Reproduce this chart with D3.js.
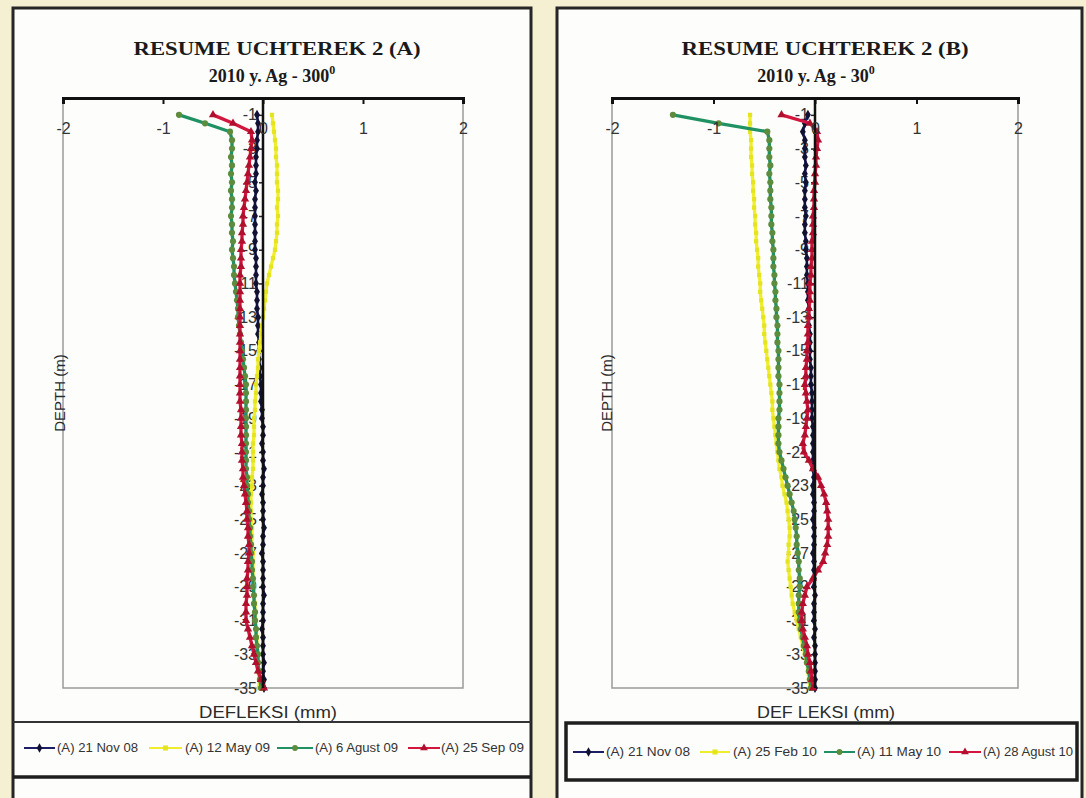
<!DOCTYPE html>
<html>
<head>
<meta charset="utf-8">
<script src="https://cdn.jsdelivr.net/npm/d3@7"></script>
<style>
  body { margin: 0; background: #f6f0d3; }
</style>
</head>
<body>
<div id="chart"></div>
<script>
// depth of each reading (m)
const depths = [
  -1,-1.5,-2,-2.5,-3,-3.5,-4,-4.5,-5,-5.5,
  -6,-6.5,-7,-7.5,-8,-8.5,-9,-9.5,-10,-10.5,
  -11,-11.5,-12,-12.5,-13,-13.5,-14,-14.5,-15,-15.5,
  -16,-16.5,-17,-17.5,-18,-18.5,-19,-19.5,-20,-20.5,
  -21,-21.5,-22,-22.5,-23,-23.5,-24,-24.5,-25,-25.5,
  -26,-26.5,-27,-27.5,-28,-28.5,-29,-29.5,-30,-30.5,
  -31,-31.5,-32,-32.5,-33,-33.5,-34,-34.5,-35
];

const xTicks = [-2, -1, 0, 1, 2];
const yTicks = [-1,-3,-5,-7,-9,-11,-13,-15,-17,-19,-21,-23,-25,-27,-29,-31,-33,-35];

// panel A deflections (mm)
const a_nov08 = [
  -0.06,-0.05,-0.05,-0.06,-0.06,-0.07,-0.07,-0.07,-0.08,-0.07,
  -0.08,-0.08,-0.08,-0.08,-0.08,-0.08,-0.08,-0.07,-0.07,-0.07,
  -0.07,-0.06,-0.06,-0.06,-0.05,-0.05,-0.05,-0.04,-0.04,-0.04,
  -0.03,-0.03,-0.02,-0.02,-0.02,-0.01,-0.01,0,0,-0.01,
  0,0,0.01,0,0,-0.01,0,0,0,0.01,
  0,0,-0.01,0,0,0,0,0.01,0,0,
  0,-0.01,0,0,0,0.01,0,0.01,0.01
];
const a_may09 = [
  0.09,0.10,0.11,0.12,0.13,0.13,0.14,0.14,0.14,0.15,
  0.15,0.14,0.15,0.14,0.14,0.13,0.12,0.10,0.08,0.06,
  0.04,0.03,0.02,0.01,0.00,-0.01,-0.02,-0.03,-0.04,-0.05,
  -0.05,-0.06,-0.07,-0.07,-0.08,-0.08,-0.09,-0.09,-0.09,-0.10,
  -0.10,-0.10,-0.10,-0.11,-0.11,-0.12,-0.12,-0.12,-0.12,-0.11,
  -0.11,-0.11,-0.10,-0.10,-0.10,-0.10,-0.09,-0.09,-0.08,-0.08,
  -0.07,-0.07,-0.06,-0.06,-0.05,-0.05,-0.05,-0.04,-0.04
];
const a_aug09 = [
  -0.84,-0.58,-0.33,-0.31,-0.31,-0.32,-0.31,-0.32,-0.31,-0.32,
  -0.31,-0.31,-0.32,-0.31,-0.31,-0.30,-0.31,-0.30,-0.29,-0.29,
  -0.28,-0.27,-0.26,-0.25,-0.25,-0.24,-0.23,-0.22,-0.21,-0.20,
  -0.19,-0.18,-0.17,-0.17,-0.17,-0.17,-0.17,-0.17,-0.17,-0.17,
  -0.17,-0.17,-0.17,-0.16,-0.16,-0.15,-0.15,-0.14,-0.14,-0.13,
  -0.13,-0.12,-0.12,-0.11,-0.11,-0.10,-0.10,-0.09,-0.09,-0.08,
  -0.08,-0.07,-0.07,-0.06,-0.05,-0.05,-0.04,-0.03,-0.02
];
const a_sep09 = [
  -0.50,-0.30,-0.12,-0.11,-0.12,-0.13,-0.14,-0.15,-0.16,-0.17,
  -0.18,-0.19,-0.20,-0.20,-0.21,-0.21,-0.22,-0.22,-0.22,-0.23,
  -0.23,-0.23,-0.23,-0.23,-0.23,-0.23,-0.23,-0.23,-0.23,-0.23,
  -0.23,-0.23,-0.23,-0.23,-0.23,-0.22,-0.22,-0.22,-0.22,-0.21,
  -0.21,-0.21,-0.20,-0.20,-0.19,-0.18,-0.17,-0.16,-0.16,-0.15,
  -0.15,-0.14,-0.14,-0.15,-0.15,-0.16,-0.16,-0.16,-0.17,-0.17,
  -0.17,-0.15,-0.13,-0.11,-0.09,-0.07,-0.05,-0.02,0.01
];

// panel B deflections (mm)
const b_nov08 = [
  -0.07,-0.10,-0.12,-0.10,-0.10,-0.10,-0.09,-0.10,-0.09,-0.10,
  -0.10,-0.10,-0.09,-0.10,-0.10,-0.09,-0.09,-0.08,-0.08,-0.08,
  -0.07,-0.07,-0.07,-0.06,-0.06,-0.06,-0.05,-0.05,-0.05,-0.05,
  -0.04,-0.04,-0.04,-0.03,-0.03,-0.03,-0.03,-0.02,-0.02,-0.02,
  -0.02,-0.02,-0.02,-0.01,-0.02,-0.02,-0.01,-0.01,-0.02,-0.01,
  -0.01,-0.01,-0.02,-0.01,-0.01,-0.01,-0.01,0,-0.01,-0.01,
  -0.01,0,-0.01,0,0,0,0,0,0
];
const b_feb10 = [
  -0.64,-0.64,-0.64,-0.63,-0.63,-0.63,-0.62,-0.62,-0.61,-0.61,
  -0.60,-0.60,-0.59,-0.59,-0.58,-0.58,-0.57,-0.56,-0.56,-0.55,
  -0.54,-0.54,-0.53,-0.52,-0.51,-0.50,-0.50,-0.49,-0.48,-0.47,
  -0.46,-0.45,-0.44,-0.43,-0.42,-0.42,-0.41,-0.40,-0.39,-0.38,
  -0.37,-0.36,-0.35,-0.33,-0.32,-0.30,-0.28,-0.27,-0.26,-0.25,
  -0.25,-0.26,-0.26,-0.27,-0.26,-0.25,-0.24,-0.23,-0.22,-0.20,
  -0.18,-0.16,-0.14,-0.12,-0.10,-0.08,-0.07,-0.06,-0.05
];
const b_may10 = [
  -1.40,-0.95,-0.47,-0.45,-0.45,-0.45,-0.44,-0.45,-0.44,-0.44,
  -0.44,-0.43,-0.43,-0.43,-0.42,-0.42,-0.41,-0.41,-0.41,-0.40,
  -0.40,-0.39,-0.39,-0.38,-0.38,-0.37,-0.37,-0.37,-0.36,-0.36,
  -0.36,-0.36,-0.35,-0.35,-0.35,-0.35,-0.36,-0.36,-0.36,-0.36,
  -0.35,-0.33,-0.31,-0.29,-0.27,-0.25,-0.23,-0.21,-0.20,-0.19,
  -0.18,-0.18,-0.17,-0.16,-0.16,-0.15,-0.15,-0.16,-0.16,-0.16,
  -0.15,-0.14,-0.12,-0.11,-0.09,-0.08,-0.06,-0.05,-0.04
];
const b_aug10 = [
  -0.33,-0.05,0.02,0.03,0.02,0.01,0.01,0.00,0.00,-0.01,
  -0.01,-0.01,-0.02,-0.02,-0.02,-0.03,-0.03,-0.03,-0.04,-0.04,
  -0.05,-0.05,-0.05,-0.06,-0.06,-0.07,-0.07,-0.07,-0.08,-0.08,
  -0.09,-0.09,-0.10,-0.09,-0.08,-0.07,-0.08,-0.09,-0.10,-0.12,
  -0.11,-0.06,-0.02,0.03,0.06,0.09,0.11,0.12,0.13,0.13,
  0.13,0.12,0.10,0.08,0.03,-0.02,-0.08,-0.10,-0.12,-0.13,
  -0.13,-0.12,-0.10,-0.08,-0.07,-0.05,-0.04,-0.03,-0.02
];

const labelsA = ["(A) 21 Nov 08", "(A) 12 May 09", "(A) 6 Agust 09", "(A) 25 Sep 09"];
const labelsB = ["(A) 21 Nov 08", "(A) 25 Feb 10", "(A) 11 May 10", "(A) 28 Agust 10"];

const colors = ["#1c1f66", "#f0ee2c", "#1f9162", "#d3163e"];
const markerFill = ["#111133", "#e4e420", "#5d8c3e", "#b0102e"];
const symbols = [d3.symbolDiamond, d3.symbolSquare, d3.symbolCircle, d3.symbolTriangle];

const width = 1086, height = 798;
const sans = "'Liberation Sans', Arial, sans-serif";
const serif = "'Liberation Serif', 'Times New Roman', serif";

const svg = d3.select("#chart").append("svg")
  .attr("width", width).attr("height", height);

svg.append("rect").attr("width", width).attr("height", height).attr("fill", "#f6f0d3");

function drawPanel(p) {
  const g = svg.append("g");

  g.append("rect")
    .attr("x", p.fx).attr("y", 8).attr("width", p.fw).attr("height", 810)
    .attr("fill", "#fdfdfb").attr("stroke", "#262626").attr("stroke-width", 3);

  const x = d3.scaleLinear().domain([-2, 2]).range([p.left, p.right]);
  const y = d3.scaleLinear().domain([0, -35]).range([98, 688]);

  // titles
  g.append("text")
    .attr("x", p.tx).attr("y", 55)
    .attr("text-anchor", "middle")
    .attr("font-family", serif).attr("font-weight", "bold").attr("font-size", 18)
    .attr("textLength", 287).attr("lengthAdjust", "spacingAndGlyphs")
    .attr("fill", "#1a1a1a")
    .text(p.title);
  const sub = g.append("text")
    .attr("x", p.sx).attr("y", 82)
    .attr("text-anchor", "middle")
    .attr("font-family", serif).attr("font-weight", "bold").attr("font-size", 18)
    .attr("fill", "#1a1a1a");
  sub.append("tspan").text(p.sub);
  sub.append("tspan").attr("dy", -8).attr("font-size", 12).text("0");

  // plot frame
  g.append("rect")
    .attr("x", p.left).attr("y", y(0))
    .attr("width", p.right - p.left).attr("height", y(-35) - y(0))
    .attr("fill", "none").attr("stroke", "#9a9a9a").attr("stroke-width", 1.5);

  // depth labels
  const yAx = g.append("g")
    .attr("transform", `translate(${x(0)},0)`)
    .call(d3.axisLeft(y).tickValues(yTicks).tickSize(4).tickPadding(2).tickFormat(d => String(d)));
  yAx.select(".domain").remove();
  yAx.selectAll("text").attr("font-family", sans).attr("font-size", 16).attr("fill", "#333");
  yAx.selectAll("line").attr("stroke", "#222").attr("stroke-width", 1.5);

  // series
  const line = d3.line().x(d => x(d[0])).y(d => y(d[1]));
  p.series.forEach((vals, i) => {
    const pts = vals.map((v, j) => [v, depths[j]]);
    g.append("path")
      .attr("d", line(pts))
      .attr("fill", "none").attr("stroke", colors[i])
      .attr("stroke-width", i === 0 ? 2.6 : 3.3)
      .attr("stroke-linejoin", "round");
    g.append("g").selectAll("path")
      .data(pts).join("path")
      .attr("transform", d => `translate(${x(d[0])},${y(d[1])})`)
      .attr("d", d3.symbol().type(symbols[i]).size(i === 1 ? 18 : 30))
      .attr("fill", markerFill[i]);
  });

  // zero line
  g.append("line")
    .attr("x1", x(0)).attr("x2", x(0)).attr("y1", y(0)).attr("y2", y(-35))
    .attr("stroke", "#111").attr("stroke-width", 2.5);

  // deflection axis on top
  const xAx = g.append("g")
    .attr("transform", `translate(0,${y(0)})`)
    .call(d3.axisTop(x).tickValues(xTicks).tickSize(-6).tickFormat(d => String(d)));
  xAx.select(".domain").attr("stroke", "#111").attr("stroke-width", 3);
  xAx.selectAll("line").attr("stroke", "#111").attr("stroke-width", 2);
  xAx.selectAll("text")
    .attr("y", 30).attr("dy", "0.35em")
    .attr("font-family", sans).attr("font-size", 16).attr("fill", "#333");

  // axis titles
  g.append("text")
    .attr("x", p.xlx).attr("y", 718)
    .attr("text-anchor", "middle")
    .attr("font-family", sans).attr("font-size", 16).attr("fill", "#2a2a2a")
    .attr("textLength", 138).attr("lengthAdjust", "spacingAndGlyphs")
    .text(p.xlabel);
  g.append("text")
    .attr("transform", `translate(${p.ylx},393) rotate(-90)`)
    .attr("text-anchor", "middle").attr("dy", "0.35em")
    .attr("font-family", sans).attr("font-size", 15).attr("fill", "#2a2a2a")
    .text("DEPTH (m)");

  // legend
  if (p.legendBox) {
    g.append("rect")
      .attr("x", p.legendBox[0]).attr("y", p.legendBox[1])
      .attr("width", p.legendBox[2]).attr("height", p.legendBox[3])
      .attr("fill", "none").attr("stroke", "#1e1e1e").attr("stroke-width", 3.5);
  } else {
    g.append("line").attr("x1", p.fx).attr("x2", p.fx + p.fw).attr("y1", 722).attr("y2", 722)
      .attr("stroke", "#333").attr("stroke-width", 2);
    g.append("line").attr("x1", p.fx).attr("x2", p.fx + p.fw).attr("y1", 777).attr("y2", 777)
      .attr("stroke", "#1e1e1e").attr("stroke-width", 3.5);
  }
  p.labels.forEach((lab, i) => {
    const [x1, x2, t1, t2] = p.legendPos[i];
    const ly = p.legendY;
    g.append("line").attr("x1", x1).attr("x2", x2).attr("y1", ly).attr("y2", ly)
      .attr("stroke", colors[i]).attr("stroke-width", 2);
    g.append("path")
      .attr("transform", `translate(${(x1 + x2) / 2},${ly})`)
      .attr("d", d3.symbol().type(symbols[i]).size(26))
      .attr("fill", markerFill[i]);
    g.append("text")
      .attr("x", t1).attr("y", ly).attr("dy", "0.35em")
      .attr("font-family", sans).attr("font-size", 12).attr("fill", "#333")
      .attr("textLength", t2 - t1).attr("lengthAdjust", "spacingAndGlyphs")
      .text(lab);
  });
}

drawPanel({
  fx: 13, fw: 518, left: 63, right: 463,
  tx: 277, sx: 272,
  title: "RESUME UCHTEREK 2 (A)", sub: "2010 y. Ag - 300",
  xlabel: "DEFLEKSI (mm)", xlx: 268, ylx: 60,
  series: [a_nov08, a_may09, a_aug09, a_sep09],
  labels: labelsA, legendY: 748,
  legendPos: [[24, 55, 57, 138], [149, 182, 185, 270], [277, 313, 315, 398], [408, 440, 441, 524]]
});

drawPanel({
  fx: 557, fw: 525, left: 612, right: 1018,
  tx: 825, sx: 816,
  title: "RESUME UCHTEREK 2 (B)", sub: "2010 y. Ag - 30",
  xlabel: "DEF LEKSI (mm)", xlx: 826, ylx: 607,
  series: [b_nov08, b_feb10, b_may10, b_aug10],
  labels: labelsB, legendY: 752,
  legendBox: [566, 723, 511, 57],
  legendPos: [[573, 604, 606, 690], [700, 730, 733, 817], [824, 855, 857, 941], [949, 981, 983, 1073]]
});
</script>
</body>
</html>
